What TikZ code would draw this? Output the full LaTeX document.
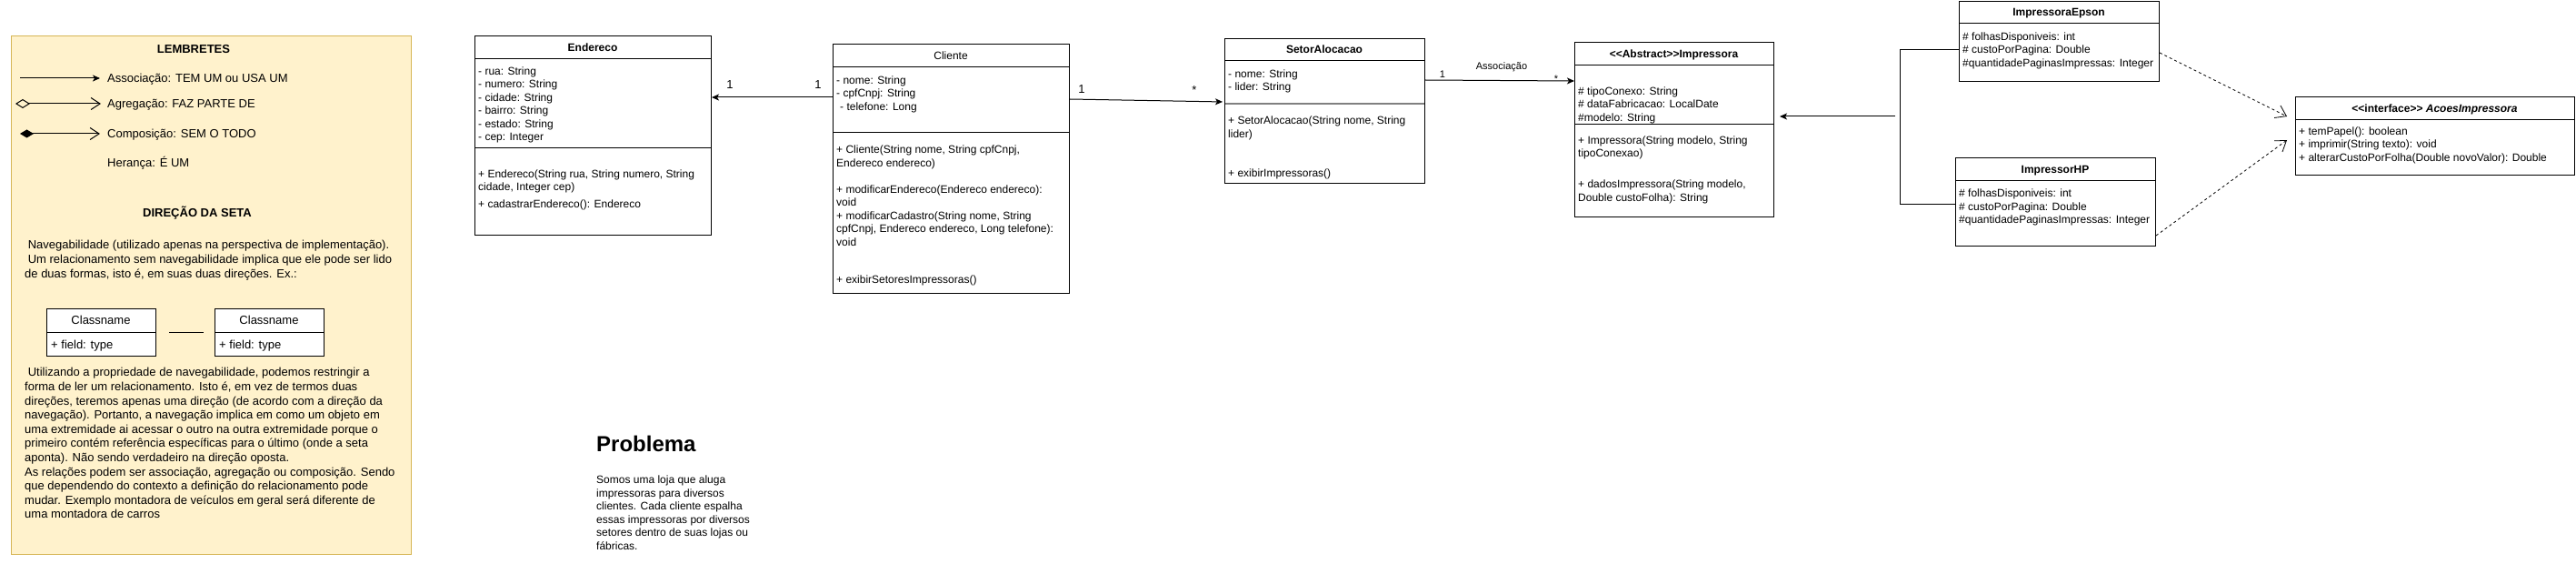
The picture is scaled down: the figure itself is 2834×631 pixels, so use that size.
\documentclass[tikz,border=0pt]{standalone}
\usepackage{fontspec}
\setmainfont{Liberation Sans}[Ligatures=TeXOff]
\usetikzlibrary{arrows.meta}
\definecolor{notefill}{HTML}{FFF2CC}
\definecolor{notedraw}{HTML}{D6B656}
\newcommand{\ftA}{\fontsize{12}{14.5}\selectfont}
\newcommand{\ftB}{\fontsize{13}{15.6}\selectfont}
\newcommand{\ftC}{\fontsize{11}{13.2}\selectfont}
\newcommand{\stA}{\rule{0pt}{9pt}}
\newcommand{\stB}{\rule{0pt}{9.75pt}}
\begin{document}
\begin{tikzpicture}[x=1pt,y=-1pt,
 classbox/.style={draw, line width=1pt, anchor=north west, inner sep=0pt, fill=white},
 divider/.style={line width=1pt},
 ctext/.style={anchor=north west, inner sep=0pt, align=left, font=\ftA},
 chead/.style={anchor=base, inner sep=0pt, font=\ftA\bfseries},
 ltext/.style={anchor=north west, inner sep=0pt, align=left, font=\ftB},
 lline/.style={anchor=base west, inner sep=0pt, font=\ftB},
 mult/.style={anchor=base, inner sep=0pt, font=\ftB},
 smult/.style={anchor=base, inner sep=0pt, font=\ftC},
 assoc/.style={line width=1pt, -{Stealth[length=8pt,width=7pt,inset=2pt]}},
 openhead/.style={line width=1pt, -{Straight Barb[length=10pt,width=13pt]}},
 realize/.style={line width=0.8pt, dash pattern=on 3pt off 3pt, -{Straight Barb[length=11pt,width=15pt,line width=0.8pt]}},
]
\fill[white] (0,0) rectangle (2834,631);
\useasboundingbox (0,0) rectangle (2834,631);

% ---------------- legend ----------------
\node[draw=notedraw, fill=notefill, line width=1pt, anchor=north west, inner sep=0pt,
      minimum width=440pt, minimum height=570pt] (legend) at (12,39) {};
\node[anchor=base, inner sep=0pt, font=\ftB\bfseries] (lemb) at (213,58.7) {LEMBRETES};
\coordinate (as1) at (22,86); \coordinate (as2) at (110,86);
\draw[assoc] (as1) -- (as2);
\node[lline] (astx) at (118,90.6) {Associação: TEM UM ou USA UM};
\coordinate (ag1) at (17,114); \coordinate (ag2) at (111,114);
\draw[line width=1pt, {Diamond[open,length=16pt,width=10pt]}-{Straight Barb[length=10pt,width=13pt]}] (ag1) -- (ag2);
\node[lline] (agtx) at (118,118.6) {Agregação: FAZ PARTE DE};
\coordinate (co1) at (22,147); \coordinate (co2) at (110,147);
\draw[line width=1pt, {Diamond[length=15pt,width=9pt]}-{Straight Barb[length=10pt,width=13pt]}] (co1) -- (co2);
\node[lline] (cotx) at (118,151.6) {Composição: SEM O TODO};
\node[lline] (hetx) at (118,183.6) {Herança: É UM};
\node[anchor=base, inner sep=0pt, font=\ftB\bfseries] (dir) at (217,238.6) {DIREÇÃO DA SETA};
\node[ltext] (par1) at (27,263.9) {\stB\hspace*{3.6pt}Navegabilidade (utilizado apenas na perspectiva de implementação).\\
\hspace*{3.6pt}Um relacionamento sem navegabilidade implica que ele pode ser lido\\
de duas formas, isto é, em suas duas direções. Ex.:};

\node[classbox, minimum width=120pt, minimum height=52pt] (cn1) at (51,339) {};
\draw[divider] (51,365) -- (171,365);
\node[anchor=base, inner sep=0pt, font=\ftB] (cn1h) at (111,356.6) {Classname};
\node[lline] (cn1f) at (56,383.6) {+ field: type};
\node[classbox, minimum width=120pt, minimum height=52pt] (cn2) at (236,339) {};
\draw[divider] (236,365) -- (356,365);
\node[anchor=base, inner sep=0pt, font=\ftB] (cn2h) at (296,356.6) {Classname};
\node[lline] (cn2f) at (241,383.6) {+ field: type};
\draw[line width=1pt, shorten <=14pt, shorten >=12pt] (cn1.east) -- (cn2.west);

\node[ltext] (par2) at (27,403.9) {\stB\hspace*{3.6pt}Utilizando a propriedade de navegabilidade, podemos restringir a\\
forma de ler um relacionamento. Isto é, em vez de termos duas\\
direções, teremos apenas uma direção (de acordo com a direção da\\
navegação). Portanto, a navegação implica em como um objeto em\\
uma extremidade ai acessar o outro na outra extremidade porque o\\
primeiro contém referência específicas para o último (onde a seta\\
aponta). Não sendo verdadeiro na direção oposta.\\
As relações podem ser associação, agregação ou composição. Sendo\\
que dependendo do contexto a definição do relacionamento pode\\
mudar. Exemplo montadora de veículos em geral será diferente de\\
uma montadora de carros};

% ---------------- Endereco ----------------
\node[classbox, minimum width=260pt, minimum height=219pt] (end) at (522,39) {};
\draw[divider] (522,65) -- (782,65);
\draw[divider] (522,163) -- (782,163);
\node[chead] (endh) at (652,56.3) {Endereco};
\node[ctext] (enda) at (526,73.3) {\stA- rua: String\\- numero: String\\- cidade: String\\- bairro: String\\- estado: String\\- cep: Integer};
\node[ctext] (endm) at (526,186.3) {\stA+ Endereco(String rua, String numero, String\\cidade, Integer cep)\\[4.5pt]+ cadastrarEndereco(): Endereco};

% ---------------- Cliente ----------------
\node[classbox, minimum width=260pt, minimum height=274pt] (cli) at (916,48) {};
\draw[divider] (916,74) -- (1176,74);
\draw[divider] (916,146) -- (1176,146);
\node[chead, font=\ftA] (clih) at (1046,65.3) {Cliente};
\node[ctext] (clia) at (920,83.3) {\stA- nome: String\\- cpfCnpj: String\\\hspace*{4pt}- telefone: Long};
\node[ctext] (clim) at (920,159.3) {\stA+ Cliente(String nome, String cpfCnpj,\\Endereco endereco)\\[14.5pt]+ modificarEndereco(Endereco endereco):\\void\\+ modificarCadastro(String nome, String\\cpfCnpj, Endereco endereco, Long telefone):\\void\\[27pt]+ exibirSetoresImpressoras()};

% ---------------- SetorAlocacao ----------------
\node[classbox, minimum width=220pt, minimum height=159pt] (set) at (1347,42) {};
\draw[divider] (1347,67) -- (1567,67);
\draw[line width=1.6pt, gray] (1347.5,114) -- (1566.5,114);
\node[chead] (seth) at (1457,58.8) {SetorAlocacao};
\node[ctext] (seta) at (1351,76.3) {\stA- nome: String\\- lider: String};
\node[ctext] (setm) at (1351,127.3) {\stA+ SetorAlocacao(String nome, String\\lider)\\[29pt]+ exibirImpressoras()};

% ---------------- Impressora ----------------
\node[classbox, minimum width=219pt, minimum height=192pt] (imp) at (1732,46) {};
\draw[divider] (1732,72) -- (1951,72);
\draw[divider] (1732,137) -- (1951,137);
\node[chead] (imph) at (1841.5,63.3) {<<Abstract>>Impressora};
\node[ctext] (impa) at (1736,95.3) {\stA\# tipoConexo: String\\\# dataFabricacao: LocalDate\\\#modelo: String};
\node[ctext] (impm) at (1736,149.3) {\stA+ Impressora(String modelo, String\\tipoConexao)\\[19.5pt]+ dadosImpressora(String modelo,\\Double custoFolha): String};

% ---------------- ImpressoraEpson ----------------
\node[classbox, minimum width=220pt, minimum height=88pt] (eps) at (2155,1) {};
\draw[divider] (2155,26) -- (2375,26);
\node[chead] (epsh) at (2265,17.8) {ImpressoraEpson};
\node[ctext] (epsa) at (2159,35.3) {\stA\# folhasDisponiveis: int\\\# custoPorPagina: Double\\\#quantidadePaginasImpressas: Integer};

% ---------------- ImpressorHP ----------------
\node[classbox, minimum width=220pt, minimum height=97pt] (hp) at (2151,173) {};
\draw[divider] (2151,199) -- (2371,199);
\node[chead] (hph) at (2261,190.3) {ImpressorHP};
\node[ctext] (hpa) at (2155,207.3) {\stA\# folhasDisponiveis: int\\\# custoPorPagina: Double\\\#quantidadePaginasImpressas: Integer};

% ---------------- Interface ----------------
\node[classbox, minimum width=307pt, minimum height=86pt] (ifc) at (2525,106) {};
\draw[divider] (2525,132) -- (2832,132);
\node[chead] (ifch) at (2678.5,123.3) {<<interface>> \textit{AcoesImpressora}};
\node[ctext] (ifcm) at (2529,139.3) {\stA+ temPapel(): boolean\\+ imprimir(String texto): void\\+ alterarCustoPorFolha(Double novoValor): Double};

% ---------------- Problema ----------------
\node[anchor=base west, inner sep=0pt, font=\fontsize{24}{28}\selectfont\bfseries] (probh) at (656,496.6) {Problema};
\node[ctext] (probt) at (656,522.3) {\stA Somos uma loja que aluga\\impressoras para diversos\\clientes. Cada cliente espalha\\essas impressoras por diversos\\setores dentro de suas lojas ou\\fábricas.};

% ---------------- connectors ----------------
\coordinate (ce) at ([yshift=-59pt]cli.north west);
\draw[assoc] (ce) -- (ce -| end.east);
\node[mult] (l1) at (803,97.6) {1};
\node[mult] (l2) at (900,97.6) {1};

\coordinate (cs1) at ([yshift=-61pt]cli.north east);
\coordinate (cs2) at ([yshift=-70pt]set.north west);
\draw[assoc, shorten >=2pt] (cs1) -- (cs2);
\node[mult] (l3) at (1190,102.6) {1};
\node[mult] (l4) at (1314,104) {*};

\coordinate (si1) at ([yshift=-46pt]set.north east);
\coordinate (si2) at ([yshift=-43pt]imp.north west);
\draw[assoc] (si1) -- (si2);
\node[smult] (l5) at (1652,77) {Associação};
\node[smult] (l6) at (1587,86) {1};
\node[smult] (l7) at (1712,91) {*};

\coordinate (ep1) at ([yshift=-54pt]eps.north west);
\coordinate (hp1) at ([yshift=-51pt]hp.north west);
\coordinate (brk) at (2090,128);
\draw[line width=1pt] (ep1) -| (brk) |- (hp1);
\draw[assoc, shorten <=5pt, shorten >=6pt] (brk) -- (brk -| imp.east);

\coordinate (ed1) at ([yshift=-57pt]eps.north east);
\coordinate (ed2) at ([xshift=-9pt,yshift=-22pt]ifc.north west);
\draw[realize] (ed1) -- (ed2);
\coordinate (hd1) at ([yshift=-86pt]hp.north east);
\coordinate (hd2) at ([xshift=-9pt,yshift=-48pt]ifc.north west);
\draw[realize] (hd1) -- (hd2);
\end{tikzpicture}
\end{document}
